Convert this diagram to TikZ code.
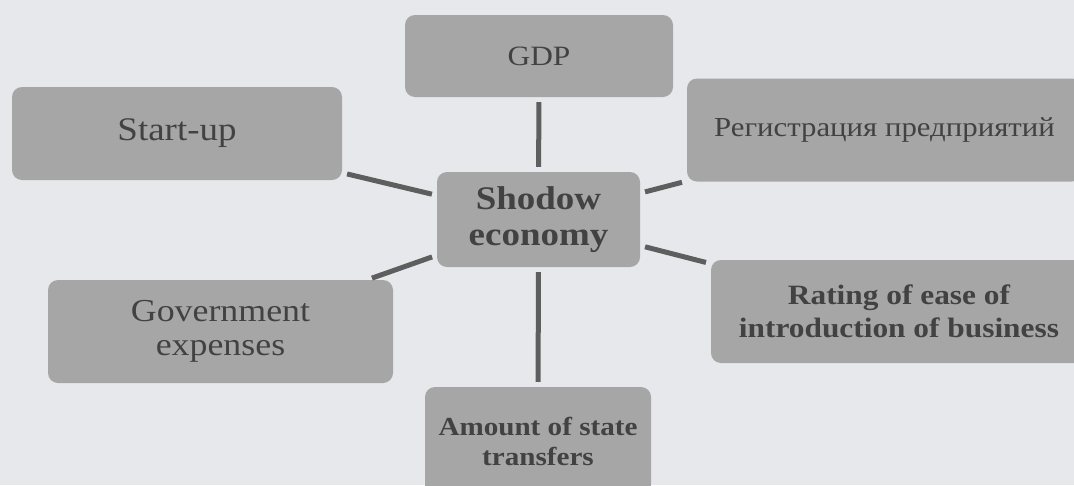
\documentclass[tikz,border=0pt]{standalone}
\usepackage{fontspec}
\setmainfont{Liberation Serif}[FakeStretch=1.12]
\definecolor{bgc}{HTML}{E6E8EC}
\definecolor{boxc}{HTML}{A6A6A6}
\definecolor{txtc}{HTML}{424242}
\definecolor{linec}{HTML}{5E5E5E}
\tikzset{
  gbox/.style={rectangle, rounded corners=10pt, fill=boxc, draw=none, inner sep=0pt, align=center, text=txtc},
  conn/.style={draw=linec, line width=5pt, shorten <=5pt, shorten >=5pt}
}
\begin{document}
\begin{tikzpicture}[x=1pt,y=-1pt]
\useasboundingbox (0,0) rectangle (1074,485);
\clip (0,0) rectangle (1074,485);
\fill[bgc] (0,0) rectangle (1074,485);

\node[gbox, minimum width=268pt, minimum height=82pt, font=\fontsize{28}{32}\selectfont] (gdp) at (539,56) {GDP};
\node[gbox, minimum width=330pt, minimum height=93pt, font=\fontsize{33}{37}\selectfont] (start) at (177,133.5) {Start-up};
\node[gbox, minimum width=395pt, minimum height=103pt, font=\fontsize{27.5}{31}\selectfont] (reg) at (884.5,130) {Регистрация предприятий};
\node[gbox, minimum width=203pt, minimum height=95pt, font=\fontsize{33}{36}\selectfont\bfseries] (shadow) at (538.5,219.5) {Shodow\\economy};
\node[gbox, minimum width=345pt, minimum height=103pt, font=\fontsize{32}{34}\selectfont] (gov) at (220.5,331.5) {Government\\expenses};
\node[gbox, minimum width=226pt, minimum height=108pt, font=\fontsize{26}{30}\selectfont\bfseries] (amount) at (538,441) {Amount of state\\transfers};
\node[gbox, minimum width=376pt, minimum height=103pt, font=\fontsize{28}{33}\selectfont\bfseries] (rating) at (899,311.5) {Rating of ease of\\introduction of business};

\draw[conn] (gdp) -- (shadow);
\draw[conn] (start) -- (shadow);
\draw[conn] (shadow) -- (reg);
\draw[conn] (shadow) -- (gov);
\draw[conn] (shadow) -- (rating);
\draw[conn] (shadow) -- (amount);
\end{tikzpicture}
\end{document}
